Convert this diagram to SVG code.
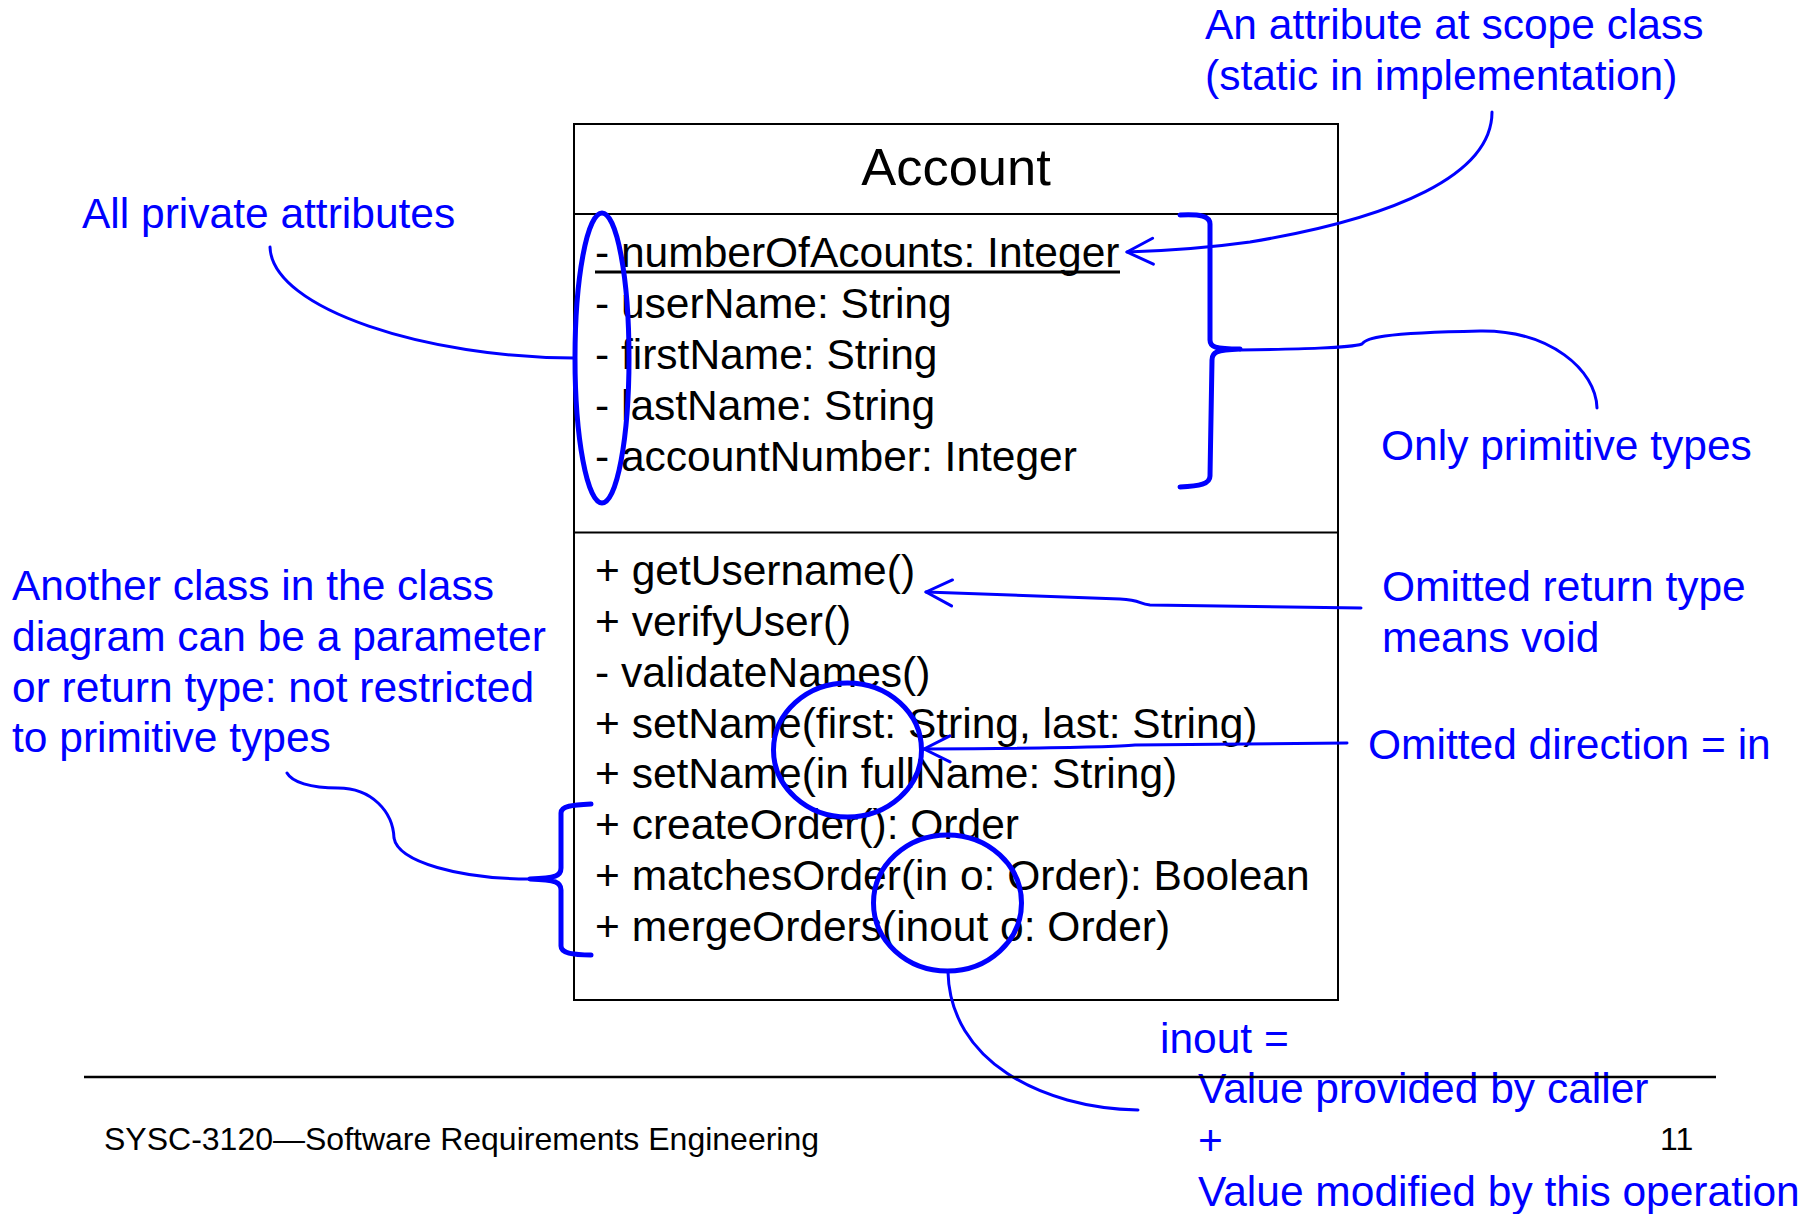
<svg xmlns="http://www.w3.org/2000/svg" width="1812" height="1214" viewBox="0 0 1812 1214">
  <style>
    .box { fill: #ffffff; stroke: #000000; stroke-width: 2; }
    .div { stroke: #000000; stroke-width: 2; }
    .cls { font-family: "Liberation Sans", Arial, sans-serif; font-size: 42.5px; fill: #000000; }
    .title { font-family: "Liberation Sans", Arial, sans-serif; font-size: 52.5px; fill: #000000; }
    .note { font-family: "Liberation Sans", Arial, sans-serif; font-size: 42.5px; fill: #0000ff; }
    .foot { font-family: "Liberation Sans", Arial, sans-serif; font-size: 32px; fill: #000000; }
    .ink { fill: none; stroke: #0000ff; stroke-width: 3; stroke-linecap: round; stroke-linejoin: round; }
    .mark { fill: none; stroke: #0000ff; stroke-width: 5; stroke-linecap: round; stroke-linejoin: round; }
  </style>
  <defs>
    <marker id="openArrow" viewBox="0 0 30 30" refX="28" refY="15" markerWidth="30" markerHeight="30" markerUnits="userSpaceOnUse" orient="auto">
      <path d="M2,2 L28,15 L2,28" fill="none" stroke="#0000ff" stroke-width="3" stroke-linecap="round" stroke-linejoin="round"/>
    </marker>
  </defs>

  <rect width="1812" height="1214" fill="#ffffff"/>

  <!-- UML class -->
  <g id="account">
    <rect class="box" x="574" y="124" width="764" height="876"/>
    <line class="div" x1="574" y1="214" x2="1338" y2="214"/>
    <line class="div" x1="574" y1="532.5" x2="1338" y2="532.5"/>
    <text class="title" x="956" y="185" text-anchor="middle">Account</text>
    <text class="cls" x="595" y="267">- numberOfAcounts: Integer</text>
    <line x1="595" y1="272" x2="1120" y2="272" stroke="#000000" stroke-width="3"/>
    <text class="cls" x="595" y="318">- userName: String</text>
    <text class="cls" x="595" y="369">- firstName: String</text>
    <text class="cls" x="595" y="419.5">- lastName: String</text>
    <text class="cls" x="595" y="470.5">- accountNumber: Integer</text>
    <text class="cls" x="595" y="585">+ getUsername()</text>
    <text class="cls" x="595" y="636">+ verifyUser()</text>
    <text class="cls" x="595" y="686.5">- validateNames()</text>
    <text class="cls" x="595" y="737.5">+ setName(first: String, last: String)</text>
    <text class="cls" x="595" y="788">+ setName(in fullName: String)</text>
    <text class="cls" x="595" y="839">+ createOrder(): Order</text>
    <text class="cls" x="595" y="890">+ matchesOrder(in o: Order): Boolean</text>
    <text class="cls" x="595" y="941">+ mergeOrders(inout o: Order)</text>
  </g>

  <!-- hand-drawn highlight marks -->
  <g id="marks">
    <ellipse class="mark" cx="602" cy="358" rx="27" ry="145"/>
    <path class="mark" d="M1180,215 C1200,214 1210,216 1210,224 L1210,340 C1210,347 1215,349 1240,349 C1216,350 1212,352 1212,360 L1210,476 C1210,484 1200,486 1180,487"/>
    <path class="mark" d="M591,804 C572,805 561,806 561,813 L561,868 C561,876 556,878 530,879 C556,880 561,882 561,890 L561,946 C561,953 572,955 591,955"/>
    <ellipse class="mark" cx="847.5" cy="750" rx="74" ry="67"/>
    <ellipse class="mark" cx="947.5" cy="903" rx="74" ry="68"/>
  </g>

  <!-- annotation texts -->
  <g id="note-private">
    <text class="note" x="82" y="228">All private attributes</text>
  </g>
  <g id="note-scope">
    <text class="note" x="1205" y="39">An attribute at scope class</text>
    <text class="note" x="1205" y="90">(static in implementation)</text>
  </g>
  <g id="note-primitive">
    <text class="note" x="1381" y="460">Only primitive types</text>
  </g>
  <g id="note-return">
    <text class="note" x="1382" y="601">Omitted return type</text>
    <text class="note" x="1382" y="652">means void</text>
  </g>
  <g id="note-direction">
    <text class="note" x="1368" y="759">Omitted direction = in</text>
  </g>
  <g id="note-class-type">
    <text class="note" x="12" y="600">Another class in the class</text>
    <text class="note" x="12" y="651">diagram can be a parameter</text>
    <text class="note" x="12" y="701.5">or return type: not restricted</text>
    <text class="note" x="12" y="752">to primitive types</text>
  </g>
  <g id="note-inout">
    <text class="note" x="1160" y="1053">inout =</text>
    <text class="note" x="1198" y="1103">Value provided by caller</text>
    <text class="note" x="1198" y="1155">+</text>
    <text class="note" x="1198" y="1206">Value modified by this operation</text>
  </g>

  <!-- connectors -->
  <g id="connectors">
    <path class="ink" d="M270,247 C272,310 430,358 574,358"/>
    <path class="ink" d="M1492,112 C1492,175 1395,218 1250,242 C1200,249 1160,251 1127,252" marker-end="url(#openArrow)"/>
    <path class="ink" d="M1240,350 C1300,349 1350,348 1362,344 C1366,338 1380,333 1480,331 C1550,330 1596,370 1597,408"/>
    <path class="ink" d="M1361,608 L1150,605 C1138,604 1142,600 1120,599 L926,592" marker-end="url(#openArrow)"/>
    <path class="ink" d="M1347,743 L1135,745 C1125,746 1100,748 924,749" marker-end="url(#openArrow)"/>
    <path class="ink" d="M287,773 C292,782 310,788 338,788 C372,788 393,812 394,838 C398,862 460,879 530,879"/>
    <path class="ink" d="M948,972 C950,1060 1040,1108 1138,1110"/>
  </g>

  <!-- slide footer -->
  <g id="footer">
    <line x1="84" y1="1077" x2="1716" y2="1077" stroke="#000000" stroke-width="2.5"/>
    <text class="foot" x="104" y="1150">SYSC-3120—Software Requirements Engineering</text>
    <text class="foot" x="1660" y="1150">11</text>
  </g>
</svg>
